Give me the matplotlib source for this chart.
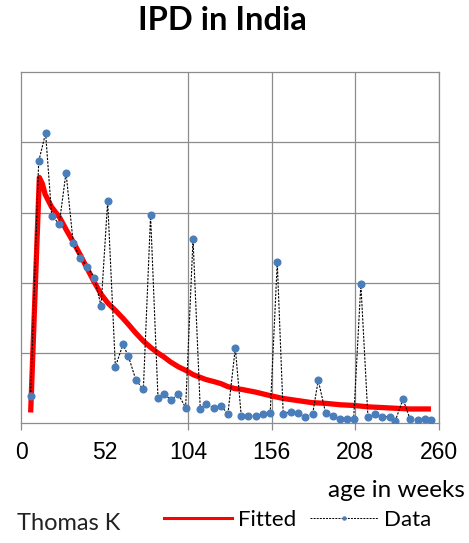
import matplotlib
matplotlib.use("Agg")
import matplotlib.pyplot as plt
from matplotlib.lines import Line2D

# monthly IPD observations, by age in weeks
data_weeks = [6.0, 11.0, 15.3, 19.1, 23.8, 28.0, 32.5, 36.9, 41.2, 45.6,
              49.8, 53.9, 58.7, 63.4, 66.8, 71.5, 76.1, 80.6, 85.2, 88.7,
              93.3, 97.8, 102.4, 107.0, 111.5, 115.0, 119.8, 124.4, 128.7, 133.3,
              137.0, 141.2, 146.0, 150.5, 155.0, 159.4, 163.1, 167.7, 172.3, 176.8,
              181.4, 184.9, 189.5, 193.8, 198.6, 202.7, 206.9, 211.4, 215.8, 220.1,
              224.7, 229.3, 232.8, 237.6, 242.1, 246.7, 251.2, 254.8]
data_vals = [0.39, 3.73, 4.13, 2.95, 2.84, 3.57, 2.56, 2.35, 2.23, 2.07,
             1.67, 3.16, 0.80, 1.12, 0.95, 0.61, 0.48, 2.96, 0.36, 0.42,
             0.33, 0.41, 0.22, 2.62, 0.20, 0.27, 0.22, 0.24, 0.13, 1.07,
             0.10, 0.10, 0.10, 0.13, 0.14, 2.29, 0.13, 0.16, 0.14, 0.09,
             0.13, 0.61, 0.14, 0.10, 0.05, 0.05, 0.05, 1.98, 0.09, 0.13,
             0.09, 0.09, 0.03, 0.34, 0.05, 0.04, 0.05, 0.04]

# fitted curve samples
fit_weeks = [6, 11.4, 13.3, 15, 19, 24, 28, 32.5, 37, 41, 45.5, 50, 54, 58.5,
             63.5, 67, 71.5, 76, 80.5, 85, 89, 93, 98, 102.5, 107, 111.5, 115,
             120, 124.5, 128.5, 133, 137, 146, 155, 163, 172, 181, 189.5, 198.5,
             207, 216, 224.5, 233, 242, 251, 255]
fit_vals = [0.15, 3.50, 3.41, 3.26, 3.08, 2.93, 2.76, 2.58, 2.39, 2.21, 2.01, 1.83,
            1.71, 1.61, 1.49, 1.40, 1.28, 1.17, 1.08, 1.00, 0.94, 0.87, 0.80, 0.75,
            0.69, 0.65, 0.62, 0.59, 0.56, 0.52, 0.49, 0.48, 0.44, 0.39, 0.35, 0.32,
            0.29, 0.28, 0.26, 0.25, 0.23, 0.22, 0.21, 0.20, 0.20, 0.20]

x_ticks = [0, 52, 104, 156, 208, 260]
x_grid = [104, 156, 208, 260]

GRID = "#8c8c8c"
BLUE = "#4a7ebb"
LABEL_FONT = ["Lato", "DejaVu Sans"]

fig = plt.figure(figsize=(4.69, 5.43), dpi=100)
ax = fig.add_axes([0.0448, 0.221, 0.8912, 0.646])

ax.plot(fit_weeks, fit_vals, color="#ff0000", lw=3.8, solid_capstyle="butt",
        zorder=2, label="Fitted")
ax.plot(data_weeks, data_vals, color="black", lw=0.8, ls=(0, (2, 1.2)),
        marker="o", ms=4.8, mfc=BLUE, mec=BLUE, zorder=3, label="Data")

ax.set_xlim(0, 260)
ax.set_ylim(0, 5)
ax.set_yticks([])
for y in range(1, 5):
    ax.axhline(y, color=GRID, lw=0.9, zorder=1)
for x in x_grid:
    ax.axvline(x, color=GRID, lw=0.9, zorder=1)
for spine in ax.spines.values():
    spine.set_color(GRID)
    spine.set_linewidth(0.9)

ax.set_xticks(x_ticks)
ax.set_xticklabels([str(t) for t in x_ticks], fontsize=16.5,
                   family="Liberation Sans")
ax.tick_params(axis="x", direction="out", length=5, width=0.9, color=GRID,
               pad=8)
ax.tick_params(axis="y", length=0)
# no tick mark at 52
ax.xaxis.get_major_ticks()[1].tick1line.set_visible(False)

fig.text(0.474, 0.963, "IPD in India", ha="center", va="center",
         fontsize=23.5, fontweight="bold", family=LABEL_FONT)
fig.text(0.992, 0.097, "age in weeks", ha="right", va="center",
         fontsize=17.5, family=LABEL_FONT)
fig.text(0.036, 0.016, "Thomas K", ha="left", va="bottom",
         fontsize=17, family=LABEL_FONT, color="#222222")

handles = [
    Line2D([], [], color="#ff0000", lw=2.2),
    Line2D([], [], color="black", lw=0.7, ls=(0, (2, 1.2)), marker="o",
           ms=2.2, mfc=BLUE, mec=BLUE),
]
fig.legend(handles, ["Fitted", "Data"], loc="center left",
           bbox_to_anchor=(0.35, 0.042), ncol=2, frameon=False,
           handlelength=3.05, handletextpad=0.27, columnspacing=0.63,
           prop={"family": LABEL_FONT, "size": 16}, borderpad=0,
           borderaxespad=0)

fig.savefig("out.png", dpi=100)
